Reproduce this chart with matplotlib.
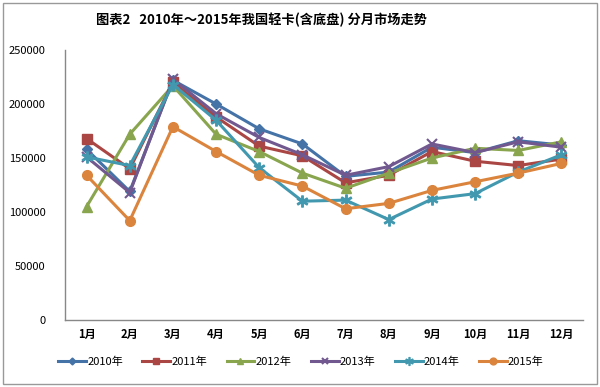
import matplotlib
matplotlib.use("Agg")
import matplotlib.pyplot as plt
from matplotlib.patches import Rectangle

plt.rcParams['font.family'] = ['Noto Sans CJK SC', 'DejaVu Sans']

months = ['1月', '2月', '3月', '4月', '5月', '6月', '7月', '8月', '9月', '10月', '11月', '12月']
series_names = ['2010年', '2011年', '2012年', '2013年', '2014年', '2015年']
v2010 = [158000, 119000, 222000, 200000, 177000, 163000, 133000, 137000, 160000, 155000, 166000, 162000]
v2011 = [168000, 140000, 220000, 188000, 161000, 152000, 127000, 134000, 156000, 147000, 143000, 149000]
v2012 = [105000, 172000, 217000, 172000, 156000, 136000, 122000, 136000, 150000, 159000, 157000, 165000]
v2013 = [151000, 118000, 223000, 191000, 169000, 153000, 134000, 142000, 163000, 155000, 165000, 160000]
v2014 = [151000, 143000, 218000, 185000, 141000, 110000, 111000, 93000, 112000, 117000, 137000, 153000]
v2015 = [134000, 92000, 179000, 156000, 134000, 124000, 103000, 108000, 120000, 128000, 136000, 145000]
yticks = [0, 50000, 100000, 150000, 200000, 250000]

data = [v2010, v2011, v2012, v2013, v2014, v2015]
colors = ['#4572A7', '#AA4643', '#89A54E', '#71588F', '#4198AF', '#DB843D']
markers = ['D', 's', '^', 'x', '$\\ast$', 'o']
msizes = [5, 7, 7, 7, 8, 7]

fig = plt.figure(figsize=(6, 3.87), dpi=100)
ax = fig.add_axes([65/600, 67/387, 518/600, 270/387])

x = list(range(len(months)))
for vals, name, c, m, ms in zip(data, series_names, colors, markers, msizes):
    ax.plot(x, vals, color=c, lw=2.2, marker=m, ms=ms, mew=1.5 if m == 'x' else 1,
            label=name, solid_joinstyle='round')

ax.set_xlim(-0.5, 11.5)
ax.set_ylim(0, 250000)
ax.set_yticks(yticks)
ax.set_yticklabels([str(t) for t in yticks], fontsize=8)
ax.set_xticks(x)
ax.set_xticklabels(months, fontsize=8, fontweight='bold')
ax.tick_params(axis='x', length=0, pad=6)
ax.tick_params(axis='y', length=0, pad=14)
for s in ['top', 'right']:
    ax.spines[s].set_visible(False)
for s in ['left', 'bottom']:
    ax.spines[s].set_color('#888888')
    ax.spines[s].set_linewidth(1.0)

fig.text(261/600, 1 - 20/387, '图表2   2010年～2015年我国轻卡(含底盘) 分月市场走势',
         ha='center', va='center', fontsize=9.5, fontweight='bold')

leg = fig.legend(loc='center', bbox_to_anchor=(301/600, 1 - 362/387), ncol=6, frameon=False,
                 fontsize=8, handlelength=2.5, columnspacing=1.75, handletextpad=0.1,
                 markerscale=0.7)

fig.patches.append(Rectangle((3/600, 3/387), 594/600, 381/387, transform=fig.transFigure,
                             fill=False, edgecolor='#999999', lw=1))

fig.savefig('out.png', dpi=100)
